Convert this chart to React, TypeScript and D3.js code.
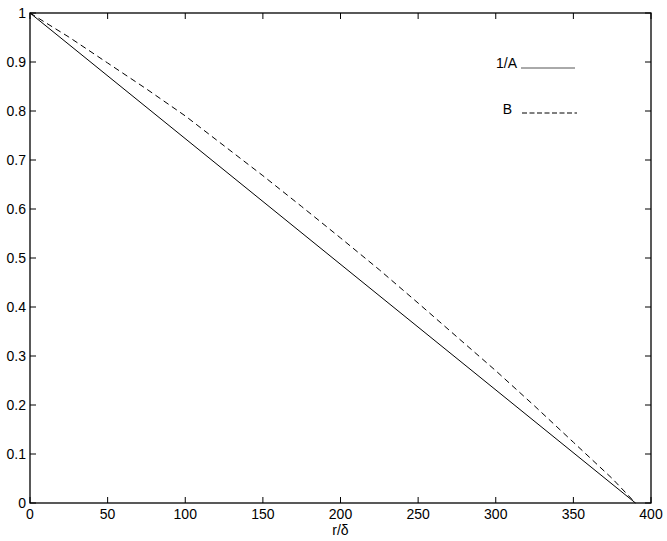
import React from "react";
import * as d3 from "d3";

const xTicks = [0, 50, 100, 150, 200, 250, 300, 350, 400];
const yTicks = [0, 0.1, 0.2, 0.3, 0.4, 0.5, 0.6, 0.7, 0.8, 0.9, 1];
const seriesAx = [0, 390];
const seriesAy = [1, 0];
const seriesBx = [0, 25, 50, 75, 100, 125, 150, 175, 200, 225, 250, 275, 300, 325, 350, 375, 390];
const seriesBy = [1, 0.951, 0.898, 0.845, 0.79, 0.729, 0.668, 0.605, 0.541, 0.476, 0.408, 0.339, 0.27, 0.198, 0.124, 0.05, 0];
const xLabel = "r/δ";
const legendA = "1/A";
const legendB = "B";

export default function App() {
  const W = 667, H = 541;
  const L = 30, R = 651, T = 13, B = 503;
  const x = d3.scaleLinear().domain([0, 400]).range([L, R]);
  const y = d3.scaleLinear().domain([0, 1]).range([B, T]);
  const line = d3.line<[number, number]>().x(d => x(d[0])).y(d => y(d[1]));
  const aPts: [number, number][] = seriesAx.map((v, i) => [v, seriesAy[i]]);
  const bPts: [number, number][] = seriesBx.map((v, i) => [v, seriesBy[i]]);
  const font = "'Liberation Sans', Arial, Helvetica, sans-serif";
  const tl = 6;
  return (
    <svg width={W} height={H} style={{ position: "absolute", left: 0, top: 0, background: "#fff" }}
      fontFamily={font}>
      <rect x={0} y={0} width={W} height={H} fill="#fff" />
      <path d={line(aPts) || ""} fill="none" stroke="#000" strokeWidth={1} />
      <path d={line(bPts) || ""} fill="none" stroke="#000" strokeWidth={1} strokeDasharray="6,4" />
      <rect x={L} y={T} width={R - L} height={B - T} fill="none" stroke="#000" strokeWidth={1.3} />
      {xTicks.map(t => (
        <g key={"x" + t}>
          <line x1={x(t)} x2={x(t)} y1={B} y2={B - tl} stroke="#000" />
          <line x1={x(t)} x2={x(t)} y1={T} y2={T + tl} stroke="#000" />
          <text x={x(t)} y={519} fontSize={14} textAnchor="middle">{t}</text>
        </g>
      ))}
      {yTicks.map(t => (
        <g key={"y" + t}>
          <line x1={L} x2={L + tl} y1={y(t)} y2={y(t)} stroke="#000" />
          <line x1={R} x2={R - tl} y1={y(t)} y2={y(t)} stroke="#000" />
          <text x={26} y={y(t) + 5} fontSize={14} textAnchor="end">{String(t)}</text>
        </g>
      ))}
      <text x={(L + R) / 2} y={535} fontSize={14} textAnchor="middle">{xLabel}</text>
      <text x={517} y={68} fontSize={14} textAnchor="end">{legendA}</text>
      <line x1={521} x2={575} y1={68} y2={68} stroke="#555" strokeWidth={1} />
      <text x={512} y={114} fontSize={14} textAnchor="end">{legendB}</text>
      <line x1={522} x2={577} y1={113} y2={113} stroke="#000" strokeWidth={1} strokeDasharray="5,2.5" />
    </svg>
  );
}
